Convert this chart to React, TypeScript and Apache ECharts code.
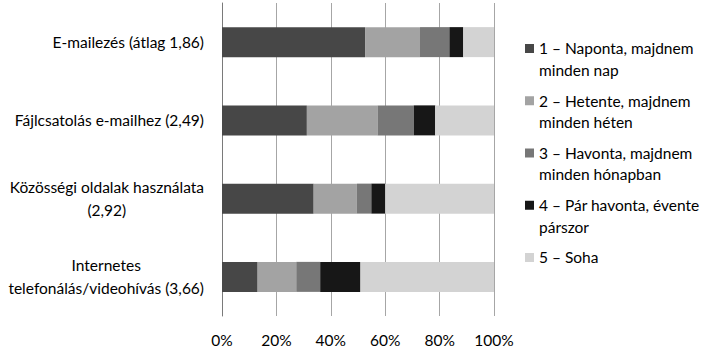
import React, { useEffect, useRef } from "react";
import * as echarts from "echarts";

const categories = [
  "E-mailezés (átlag 1,86)",
  "Fájlcsatolás e-mailhez (2,49)",
  "Közösségi oldalak használata\n(2,92)",
  "Internetes\ntelefonálás/videohívás (3,66)",
];

const seriesNames = [
  "1 – Naponta, majdnem\nminden nap",
  "2 – Hetente, majdnem\nminden héten",
  "3 – Havonta, majdnem\nminden hónapban",
  "4 – Pár havonta, évente\npárszor",
  "5 – Soha",
];

const daily = [52.6, 31.2, 33.7, 13.1];
const weekly = [20.2, 26.0, 15.9, 14.2];
const monthly = [10.8, 13.3, 5.3, 8.8];
const fewMonths = [5.1, 7.9, 5.1, 14.8];
const never = [11.3, 21.6, 40.0, 49.1];

const seriesValues = [daily, weekly, monthly, fewMonths, never];
const seriesColors = ["#474747", "#a3a3a3", "#777777", "#171717", "#d3d3d3"];

const xTicks = [0, 20, 40, 60, 80, 100];

const FONT = "Lato";
const FS = 15.5;
const TXT = "#000000";

export default function App() {
  const ref = useRef<HTMLDivElement>(null);

  useEffect(() => {
    if (!ref.current) return;
    const chart = echarts.init(ref.current, undefined, { renderer: "svg" });

    const legendTop = 37.5;
    const legendStep = 52.25;
    const graphic: any[] = [];
    seriesNames.forEach((name, i) => {
      graphic.push({
        type: "rect",
        left: 525,
        top: 44 + i * legendStep,
        shape: { x: 0, y: 0, width: 9, height: 9 },
        style: { fill: seriesColors[i] },
      });
      graphic.push({
        type: "text",
        left: 539,
        top: legendTop + i * legendStep,
        style: {
          text: name,
          fontFamily: FONT,
          fontSize: FS,
          lineHeight: 21.5,
          fill: TXT,
        },
      });
    });

    chart.setOption({
      animation: false,
      grid: { left: 222, right: 215, top: 3, bottom: 36 },
      xAxis: {
        type: "value",
        min: xTicks[0],
        max: xTicks[xTicks.length - 1],
        interval: 20,
        axisLine: { show: false },
        axisTick: { show: false },
        splitLine: { show: true, lineStyle: { color: "#a6a6a6", width: 1 } },
        axisLabel: {
          formatter: "{value}%",
          fontFamily: FONT,
          fontSize: FS,
          color: TXT,
          margin: 16,
        },
      },
      yAxis: {
        type: "category",
        data: categories,
        inverse: true,
        axisLine: { show: true, lineStyle: { color: "#7a7a7a", width: 1 } },
        axisTick: { show: false },
        axisLabel: {
          margin: 18,
          fontFamily: FONT,
          fontSize: FS,
          color: TXT,
          lineHeight: 23,
          formatter: (v: string) =>
            v.includes("\n")
              ? v
                  .split("\n")
                  .map((l) => `{c|${l}}`)
                  .join("\n")
              : v,
          rich: {
            c: {
              align: "center",
              fontFamily: FONT,
              fontSize: FS,
              color: TXT,
              lineHeight: 23,
            },
          },
        },
      },
      series: seriesValues.map((vals, i) => ({
        type: "bar",
        name: seriesNames[i],
        stack: "total",
        data: vals,
        barWidth: 30,
        itemStyle: { color: seriesColors[i] },
      })),
      graphic,
    });

    return () => chart.dispose();
  }, []);

  return (
    <div
      ref={ref}
      style={{ position: "fixed", left: 0, top: 0, width: 709, height: 352, background: "#fff" }}
    />
  );
}
